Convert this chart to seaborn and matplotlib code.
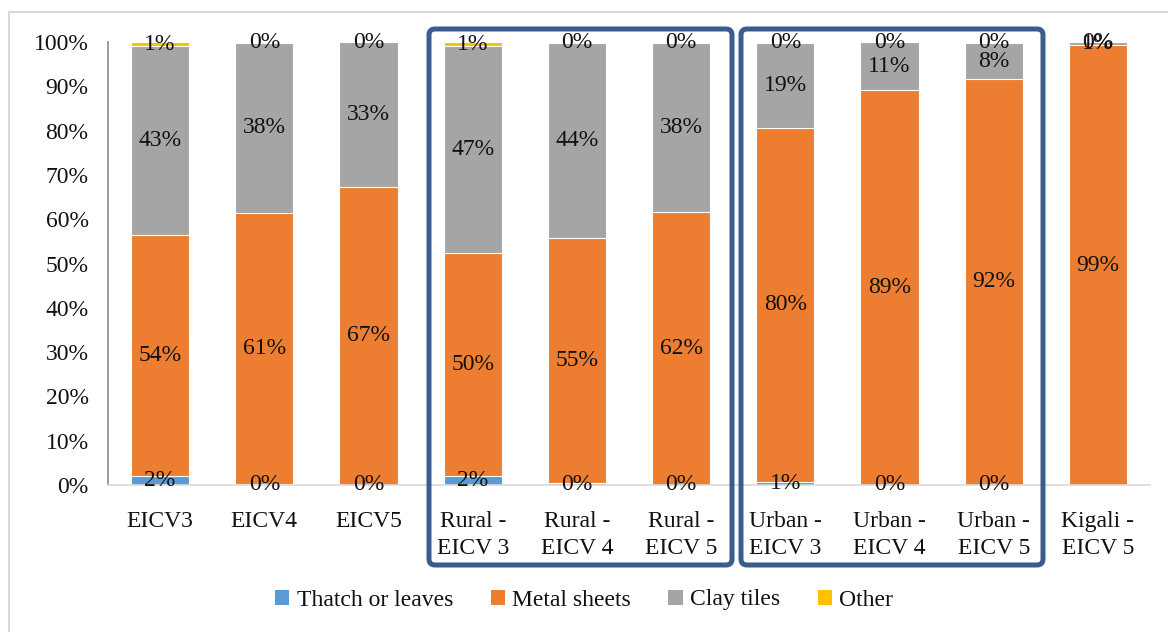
import numpy as np
import pandas as pd
import seaborn as sns
import matplotlib.pyplot as plt
from matplotlib.patches import FancyBboxPatch, Rectangle
from matplotlib.lines import Line2D
from matplotlib.transforms import IdentityTransform

# Roofing material shares (%) by survey round and area
categories = ["EICV3", "EICV4", "EICV5",
              "Rural -\nEICV 3", "Rural -\nEICV 4", "Rural -\nEICV 5",
              "Urban -\nEICV 3", "Urban -\nEICV 4", "Urban -\nEICV 5",
              "Kigali -\nEICV 5"]
thatch = [2.0, 0.3, 0.1, 2.1, 0.4, 0.1, 0.7, 0.1, 0.1, np.nan]
metal = [54.4, 61.2, 67.2, 50.3, 55.4, 61.6, 79.9, 89.0, 91.5, 99.3]
clay = [42.6, 38.2, 32.7, 46.6, 44.0, 38.1, 19.1, 10.8, 8.2, 0.6]
other = [1.0, 0.3, 0.0, 1.0, 0.2, 0.2, 0.3, 0.1, 0.2, 0.1]

series_names = ["Thatch or leaves", "Metal sheets", "Clay tiles", "Other"]
series_colors = ["#5B9BD5", "#ED7D31", "#A5A5A5", "#FFC000"]
y_ticks = [0, 10, 20, 30, 40, 50, 60, 70, 80, 90, 100]

sns.set_theme(style="white")
plt.rcParams["font.family"] = ["Liberation Serif", "DejaVu Serif"]
FS = 17

W, H = 1168, 632
fig = plt.figure(figsize=(W / 100, H / 100), dpi=100)
fig.patch.set_facecolor("white")
ax = fig.add_axes([108 / W, 1 - 485 / H, (1150 - 108) / W, (485 - 42) / H])

df = pd.DataFrame({"category": categories, "Thatch or leaves": thatch,
                   "Metal sheets": metal, "Clay tiles": clay, "Other": other})

# cumulative tops for the stacked layers
tops = []
cum = np.zeros(len(categories))
for name in series_names:
    cum = cum + np.nan_to_num(df[name].to_numpy())
    tops.append(cum.copy())

# draw from the highest cumulative layer downwards so each sits on the next
for name, color, top in reversed(list(zip(series_names, series_colors, tops))):
    sns.barplot(x=df["category"], y=top, color=color, width=0.56,
                edgecolor="white", linewidth=0.8, ax=ax, saturation=1)

# value labels centred in each segment
for name, top in zip(series_names, tops):
    vals = df[name].to_numpy()
    for i, v in enumerate(vals):
        if np.isnan(v):
            continue
        ax.text(i, top[i] - v / 2, f"{v:.0f}%", ha="center", va="center",
                fontsize=FS, color="#111111")

ax.set_xlim(-0.5, len(categories) - 0.5)
ax.set_ylim(0, 100)
ax.set_yticks(y_ticks)
ax.set_yticklabels([f"{t}%" for t in y_ticks])
ax.set_xlabel("")
ax.set_ylabel("")
ax.tick_params(axis="y", length=0, pad=14, labelsize=FS, labelcolor="#111111")
ax.tick_params(axis="x", length=0, pad=19, labelsize=FS, labelcolor="#111111")
for lbl in ax.get_xticklabels():
    lbl.set_linespacing(1.35)
ax.grid(False)
for s in ["top", "right"]:
    ax.spines[s].set_visible(False)
ax.spines["left"].set_color("#8C8C8C")
ax.spines["left"].set_linewidth(1.2)
ax.spines["bottom"].set_color("#D9D9D9")
ax.spines["bottom"].set_linewidth(1.2)

# legend
handles = [Rectangle((0, 0), 1, 1, facecolor=c, edgecolor="none") for c in series_colors]
fig.legend(handles, series_names, loc="center", bbox_to_anchor=(0.5, 1 - 600 / H),
           ncol=4, frameon=False, fontsize=FS, handlelength=0.6, handleheight=0.6,
           handletextpad=0.3, columnspacing=1.6, labelcolor="#111111")

# outline of the chart area (top and left edges)
fig.add_artist(Line2D([9, W + 5], [H - 12, H - 12], transform=IdentityTransform(),
                      color="#D9D9D9", lw=1.5))
fig.add_artist(Line2D([9, 9], [-5, H - 12], transform=IdentityTransform(),
                      color="#D9D9D9", lw=1.5))

# group frames around the rural and urban bars
for x0, x1 in [(429, 732), (741, 1043)]:
    fig.add_artist(FancyBboxPatch((x0, H - 565), x1 - x0, 565 - 29,
                                  boxstyle="round,pad=0,rounding_size=6",
                                  transform=IdentityTransform(), facecolor="none",
                                  edgecolor="#3A5D8B", linewidth=3.6))

fig.savefig("out.png", dpi=100, facecolor="white")
